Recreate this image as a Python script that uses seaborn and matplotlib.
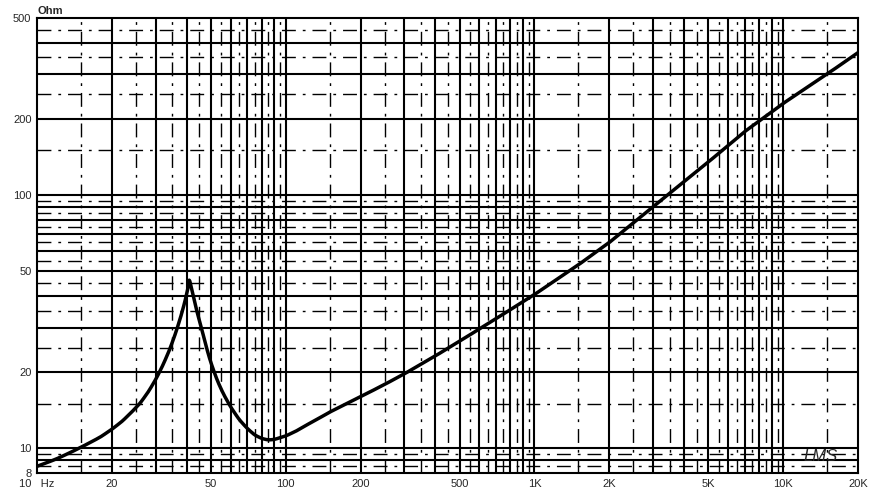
import numpy as np
import matplotlib
matplotlib.use("Agg")
import matplotlib.pyplot as plt
import seaborn as sns

freq = [10, 11, 12, 13.5, 15, 16.5, 18, 20, 22, 24, 26, 28, 30, 32, 34, 36, 38, 40, 41, 42, 43, 44, 46, 48, 50, 53, 56, 60, 65, 70, 75, 80, 85, 90, 100, 110, 120, 135, 150, 175, 200, 250, 300, 400, 500, 700, 1000, 1500, 2000, 3000, 5000, 7000, 10000, 15000, 20000]
imp = [8.5, 8.8, 9.1, 9.6, 10.1, 10.6, 11.1, 11.9, 12.8, 13.9, 15.1, 16.7, 18.7, 21.2, 24.3, 28.3, 33.5, 40.5, 46.5, 42.0, 38.0, 34.5, 29.5, 25.0, 21.8, 18.6, 16.5, 14.6, 13.0, 12.0, 11.3, 10.95, 10.8, 10.85, 11.2, 11.7, 12.3, 13.1, 13.9, 15.0, 16.0, 17.9, 19.7, 23.2, 26.5, 32.5, 40.5, 53.0, 65.0, 90.0, 135.0, 178.0, 230.0, 300.0, 365.0]
xticks = [10, 20, 50, 100, 200, 500, 1000, 2000, 5000, 10000, 20000]
xlabels = ["10   Hz", "20", "50", "100", "200", "500", "1K", "2K", "5K", "10K", "20K"]
yticks = [8, 10, 20, 50, 100, 200, 500]

sns.set_style("white")
plt.rcParams['font.family'] = ['Liberation Sans', 'DejaVu Sans']
fig = plt.figure(figsize=(8.74, 4.94), dpi=100)
ax = fig.add_axes([37/874, 1-473/494, (858-37)/874, (473-18)/494])
ax.set_xscale("log"); ax.set_yscale("log")
ax.set_xlim(10, 20000); ax.set_ylim(8, 500)

dd = (0, (10, 5, 2, 5))
for d in [10, 100, 1000, 10000]:
    for m in range(1, 10):
        v = m*d
        if 10 < v < 20000:
            ax.axvline(v, color="black", lw=1.5, zorder=1)
        vh = (m+0.5)*d
        if vh < 20000:
            ax.axvline(vh, color="black", lw=1, ls=dd, zorder=1)
for d in [1, 10, 100]:
    for m in range(1, 10):
        v = m*d
        if 8 < v < 500:
            ax.axhline(v, color="black", lw=1.5, zorder=1)
        vh = (m+0.5)*d
        if 8 < vh < 500:
            ax.axhline(vh, color="black", lw=1, ls=dd, zorder=1)

lf = np.log10(freq); li = np.log10(imp)
xs = np.linspace(lf[0], lf[-1], 1500)
ys = np.interp(xs, lf, li)
# smooth each side of the resonance peak separately
pk = np.log10(41)
k = np.ones(9)/9
for mask in [xs <= pk, xs > pk]:
    seg = ys[mask]
    pad = np.concatenate([np.full(4, seg[0]), seg, np.full(4, seg[-1])])
    sm = np.convolve(pad, k, mode="valid")
    sm[:4] = seg[:4]; sm[-4:] = seg[-4:]
    ys[mask] = sm
sns.lineplot(x=10**xs, y=10**ys, ax=ax, color="black", lw=2.5, zorder=3)

ax.set_xticks(xticks); ax.set_xticklabels(xlabels, fontsize=8)
ax.set_yticks(yticks); ax.set_yticklabels([str(t) for t in yticks], fontsize=8)
ax.minorticks_off()
ax.tick_params(length=0, pad=4)
for s in ax.spines.values():
    s.set_linewidth(1.5); s.set_color("black")
ax.text(0, 1.005, "Ohm", transform=ax.transAxes, fontsize=8, fontweight="bold", ha="left", va="bottom")
ax.text(0.975, 0.02, "LMS", transform=ax.transAxes, fontsize=12, style="italic", ha="right", va="bottom", zorder=4)
fig.savefig("out.png", dpi=100)
